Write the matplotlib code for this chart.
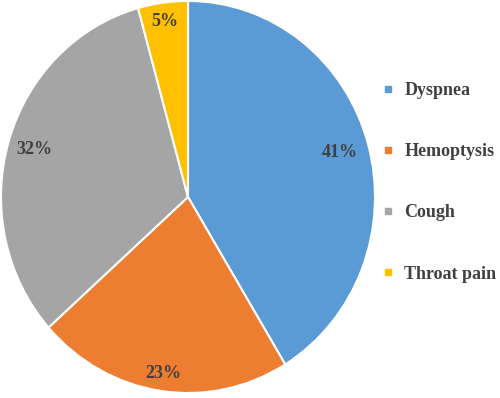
import matplotlib
matplotlib.use("Agg")
import matplotlib.pyplot as plt
import numpy as np
from matplotlib.lines import Line2D

categories = ["Dyspnea", "Hemoptysis", "Cough", "Throat pain"]
values = [41.3, 22.1, 32.3, 4.3]
pct_labels = ["41%", "23%", "32%", "5%"]
colors = ["#5B9BD5", "#ED7D31", "#A5A5A5", "#FFC000"]
label_dist = [0.845, 0.91, 0.856, 0.905]

text_color = "#404040"
font = "Liberation Serif"

fig = plt.figure(figsize=(5.0, 3.98), dpi=100)
ax = fig.add_axes([0.002, 0.0126, 0.748, 0.985])
wedges, _ = ax.pie(values, colors=colors, startangle=90, counterclock=False,
                   wedgeprops=dict(edgecolor="white", linewidth=1.5), radius=1.0)
ax.set_aspect("auto")
ax.set_xlim(-1, 1)
ax.set_ylim(-1, 1)

for w, lab, d in zip(wedges, pct_labels, label_dist):
    ang = np.deg2rad((w.theta1 + w.theta2) / 2)
    ax.text(d * np.cos(ang), d * np.sin(ang), lab, ha="center", va="center",
            fontsize=13, fontweight="bold", color=text_color, family=font)

handles = [Line2D([0], [0], marker="s", linestyle="none", markersize=5,
                  markerfacecolor=c, markeredgecolor=c) for c in colors]
leg = fig.legend(handles, categories, loc="center left",
                 bbox_to_anchor=(0.765, 0.542), frameon=False,
                 handlelength=0.6, handletextpad=0.6, labelspacing=2.45,
                 borderaxespad=0, borderpad=0,
                 prop=dict(family=font, weight="bold", size=13))
for t in leg.get_texts():
    t.set_color(text_color)

fig.savefig("out.png", dpi=100, facecolor="white")
